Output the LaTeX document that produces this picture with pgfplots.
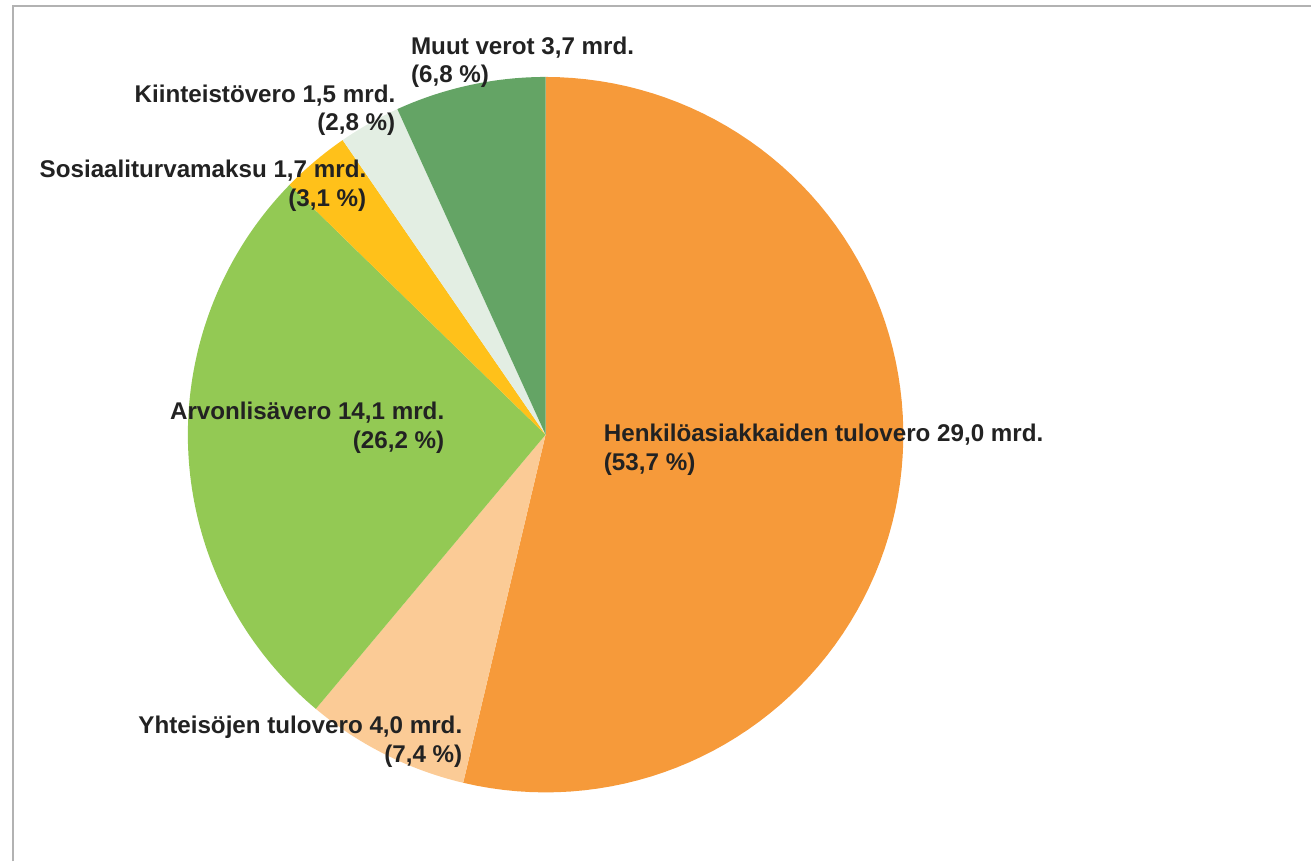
\documentclass[border=0pt]{standalone}
\usepackage{pgfplots}
\pgfplotsset{compat=1.18}
\usepackage{fontspec}
\setmainfont{Liberation Sans}
\definecolor{cHenk}{HTML}{F69A3A}
\definecolor{cYht}{HTML}{FBCB96}
\definecolor{cAlv}{HTML}{93C954}
\definecolor{cSos}{HTML}{FFC11A}
\definecolor{cKiin}{HTML}{E3EEE3}
\definecolor{cMuut}{HTML}{64A465}
\definecolor{txt}{HTML}{222222}
\tikzset{lbl/.style={font=\fontsize{12.1pt}{14pt}\selectfont\bfseries, text=txt, inner sep=0pt}}
% slice shares in percent (start at 12 o'clock, clockwise)
% Henkilo 53.7, Yhteisot 7.4, Alv 26.2, Sosiaali 3.1, Kiinteisto 2.8, Muut 6.8
% cumulative: 0, 53.7, 61.1, 87.3, 90.4, 93.2, 100
\newcommand{\slice}[3]{%
  \addplot[draw=none, fill=#3, domain={90-3.6*#2}:{90-3.6*#1}, samples=90, variable=\t]
    ({546+358*cos(\t)},{435-358*sin(\t)}) -- (axis cs:546,435) -- cycle;}
\begin{document}
\begin{tikzpicture}
\begin{axis}[
  scale only axis, width=656pt, height=431pt,
  xmin=0, xmax=1312, ymin=0, ymax=862, y dir=reverse,
  hide axis, clip=false,
]
\path (axis cs:0,0) rectangle (axis cs:1312,862);
\draw[color=black!30, line width=1pt] (axis cs:13,862) -- (axis cs:13,6) -- (axis cs:1312,6);
\slice{0}{53.7}{cHenk}
\slice{53.7}{61.1}{cYht}
\slice{61.1}{87.3}{cAlv}
\slice{87.3}{90.4}{cSos}
\slice{90.4}{93.2}{cKiin}
\slice{93.2}{100}{cMuut}
\node[lbl, anchor=base west] at (axis cs:411,55) {Muut verot 3,7 mrd.};
\node[lbl, anchor=base west] at (axis cs:411,83) {(6,8 \%)};
\node[lbl, anchor=base east] at (axis cs:396,103) {Kiinteistövero 1,5 mrd.};
\node[lbl, anchor=base east] at (axis cs:396,131) {(2,8 \%)};
\node[lbl, anchor=base east] at (axis cs:367,178) {Sosiaaliturvamaksu 1,7 mrd.};
\node[lbl, anchor=base east] at (axis cs:367,207) {(3,1 \%)};
\node[lbl, anchor=base east] at (axis cs:445,420) {Arvonlisävero 14,1 mrd.};
\node[lbl, anchor=base east] at (axis cs:445,449) {(26,2 \%)};
\node[lbl, anchor=base west] at (axis cs:604,442) {Henkilöasiakkaiden tulovero 29,0 mrd.};
\node[lbl, anchor=base west] at (axis cs:604,471) {(53,7 \%)};
\node[lbl, anchor=base east] at (axis cs:463,734) {Yhteisöjen tulovero 4,0 mrd.};
\node[lbl, anchor=base east] at (axis cs:463,763) {(7,4 \%)};
\end{axis}
\end{tikzpicture}
\end{document}
